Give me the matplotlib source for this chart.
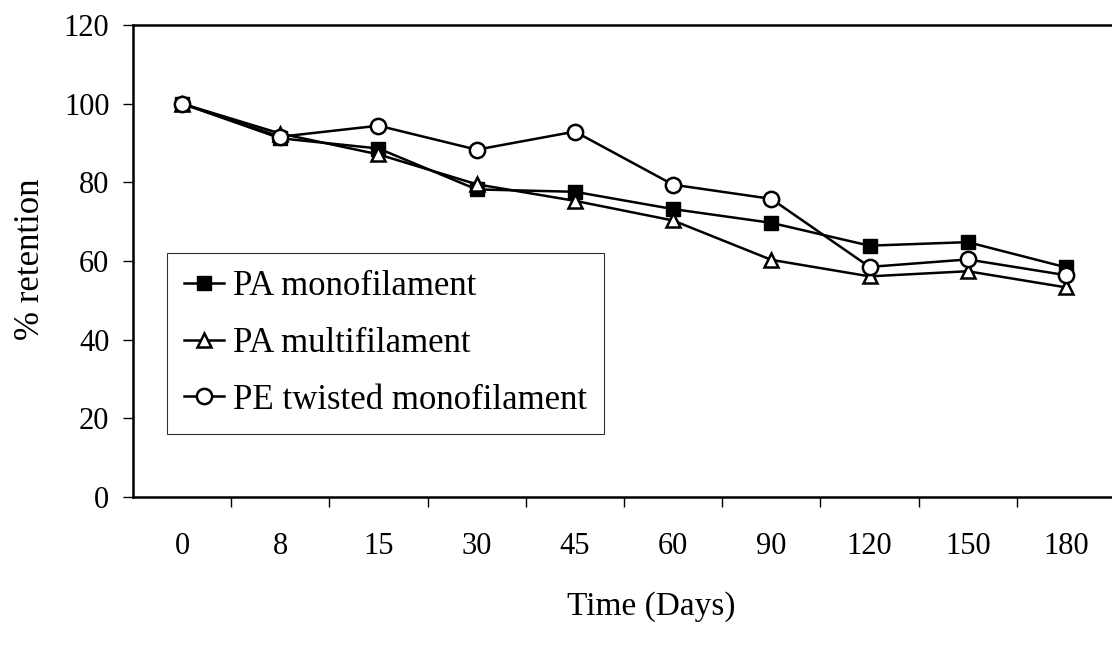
import matplotlib.pyplot as plt
from matplotlib.ticker import FixedLocator

# data
days = ['0', '8', '15', '30', '45', '60', '90', '120', '150', '180']
pa_mono = [100, 91.2, 88.6, 78.2, 77.6, 73.2, 69.7, 63.9, 64.8, 58.4]
pa_multi = [100, 92.4, 87.1, 79.5, 75.3, 70.3, 60.3, 56.1, 57.4, 53.3]
pe_twisted = [100, 91.6, 94.4, 88.3, 92.9, 79.4, 75.8, 58.5, 60.4, 56.4]

plt.rcParams['font.family'] = ['Liberation Serif', 'DejaVu Serif']

fig = plt.figure(figsize=(11.12, 6.54), dpi=100)
ax = fig.add_axes([0.1196, 0.240, 0.8831, 0.7218])

x = range(len(days))
ax.plot(x, pa_mono, color='black', lw=1.8, marker='s', ms=10,
        mfc='black', mec='black', label='PA monofilament')
ax.plot(x, pa_multi, color='black', lw=1.8, marker='^', ms=10,
        mfc='white', mec='black', mew=1.8, label='PA multifilament')
ax.plot(x, pe_twisted, color='black', lw=1.8, marker='o', ms=11,
        mfc='white', mec='black', mew=1.8, label='PE twisted monofilament')

ax.set_xlim(-0.5, len(days) - 0.5)
ax.set_ylim(0, 120)
ax.set_yticks(range(0, 121, 20))
ax.set_xticks(list(x))
ax.set_xticklabels(days)
ax.xaxis.set_minor_locator(FixedLocator([i + 0.5 for i in range(len(days) - 1)]))

ax.tick_params(axis='x', which='major', length=0, pad=25, labelsize=22)
ax.tick_params(axis='x', which='minor', length=7, width=1, direction='out')
ax.tick_params(axis='y', length=7, width=1, direction='out', pad=10, labelsize=22)

for s in ['left', 'bottom', 'top']:
    ax.spines[s].set_linewidth(1.8)
ax.spines['right'].set_visible(False)

ax.set_ylabel('% retention', fontsize=25)
ax.yaxis.set_label_coords(-0.088, 0.504)
ax.set_xlabel('Time (Days)', fontsize=24)
ax.xaxis.set_label_coords(0.528, -0.2)

leg = ax.legend(loc='upper left', bbox_to_anchor=(0.0346, 0.517), fontsize=25,
                frameon=True, fancybox=False, handlelength=1.15,
                handletextpad=0.25, labelspacing=0.68, borderpad=0.5,
                borderaxespad=0)
leg.get_frame().set_edgecolor('black')
leg.get_frame().set_linewidth(0.8)

fig.savefig('out.png', dpi=100)
